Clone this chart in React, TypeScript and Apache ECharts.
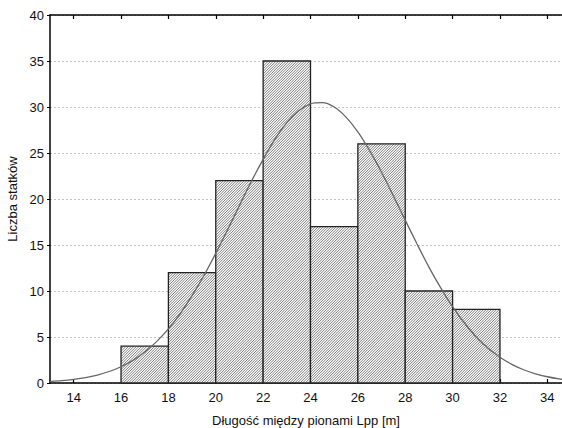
import React, { useEffect, useRef } from "react";
import * as echarts from "echarts";

const binStarts = [16, 18, 20, 22, 24, 26, 28, 30];
const binEnds = [18, 20, 22, 24, 26, 28, 30, 32];
const counts = [4, 12, 22, 35, 17, 26, 10, 8];

const curveX = [13, 13.5, 14, 14.5, 15, 15.5, 16, 16.5, 17, 17.5, 18, 18.5, 19, 19.5, 20, 20.5, 21, 21.5, 22, 22.5, 23, 23.5, 24, 24.5, 25, 25.5, 26, 26.5, 27, 27.5, 28, 28.5, 29, 29.5, 30, 30.5, 31, 31.5, 32, 32.5, 33, 33.5, 34, 34.5, 35];
const curveY = [0.16, 0.25, 0.39, 0.58, 0.86, 1.25, 1.77, 2.46, 3.36, 4.5, 5.88, 7.54, 9.49, 11.68, 14.1, 16.65, 19.3, 21.9, 24.3, 26.5, 28.3, 29.6, 30.35, 30.47, 30.0, 28.9, 27.3, 25.25, 22.9, 20.34, 17.7, 15.1, 12.6, 10.34, 8.3, 6.52, 5.0, 3.78, 2.8, 2.03, 1.44, 1.0, 0.68, 0.45, 0.3];

const xTicks = [14, 16, 18, 20, 22, 24, 26, 28, 30, 32, 34];

const FONT = "Liberation Sans, Arial, sans-serif";

export default function App() {
  const ref = useRef<HTMLDivElement>(null);
  useEffect(() => {
    document.body.style.margin = "0";
    if (!ref.current) return;
    const chart = echarts.init(ref.current, null, { renderer: "svg" });
    const barData = binStarts.map((s, i) => [s, binEnds[i], counts[i]]);
    const lineData = curveX.map((x, i) => [x, curveY[i]]);
    const renderItem = (params: any, api: any) => {
      const p0 = api.coord([api.value(0), api.value(2)]);
      const p1 = api.coord([api.value(1), 0]);
      const x0 = p0[0], y0 = p0[1], x1 = p1[0], y1 = p1[1];
      const children: any[] = [
        { type: "rect", shape: { x: x0, y: y0, width: x1 - x0, height: y1 - y0 }, style: { fill: "#fff" } },
      ];
      const step = 2.6;
      for (let c = x0 + y0; c <= x1 + y1; c += step) {
        const xa = Math.max(x0, c - y1);
        const xb = Math.min(x1, c - y0);
        if (xb <= xa) continue;
        children.push({
          type: "line",
          shape: { x1: xa, y1: c - xa, x2: xb, y2: c - xb },
          style: { stroke: "#6e6e6e", lineWidth: 0.9 },
        });
      }
      children.push({
        type: "rect",
        shape: { x: x0, y: y0, width: x1 - x0, height: y1 - y0 },
        style: { fill: "none", stroke: "#222", lineWidth: 1.3 },
      });
      return { type: "group", children };
    };
    chart.setOption({
      animation: false,
      grid: { left: 50, right: 0, top: 15, bottom: 45, outerBoundsMode: "none", containLabel: false },
      xAxis: [
        {
          type: "value",
          min: 13,
          max: 34.62,
          position: "bottom",
          name: "Długość między pionami Lpp [m]",
          nameLocation: "middle",
          nameGap: 31,
          nameTextStyle: { fontFamily: FONT, fontSize: 13, color: "#111" },
          axisLine: { show: true, lineStyle: { color: "#000", width: 1.5 } },
          axisTick: { show: true, inside: true, length: 4, customValues: xTicks, lineStyle: { color: "#000", width: 1.2 } },
          axisLabel: { customValues: xTicks, fontFamily: FONT, fontSize: 13, color: "#111", margin: 8 },
          splitLine: { show: false },
        },
        {
          type: "value",
          min: 13,
          max: 34.62,
          position: "top",
          axisLine: { show: true, lineStyle: { color: "#000", width: 1.5 } },
          axisTick: { show: true, inside: true, length: 4, customValues: xTicks, lineStyle: { color: "#000", width: 1.2 } },
          axisLabel: { show: false, customValues: xTicks },
          splitLine: { show: false },
        },
      ],
      yAxis: {
        type: "value",
        min: 0,
        max: 40,
        interval: 5,
        name: "Liczba statków",
        nameLocation: "middle",
        nameGap: 30,
        nameTextStyle: { fontFamily: FONT, fontSize: 13, color: "#111" },
        axisLine: { show: true, lineStyle: { color: "#000", width: 1.5 } },
        axisTick: { show: true, inside: false, length: 3, lineStyle: { color: "#000" } },
        axisLabel: { fontFamily: FONT, fontSize: 13, color: "#111", margin: 6 },
        splitLine: { show: true, lineStyle: { color: "#c4c4c4", type: [2, 2], width: 1 } },
      },
      series: [
        {
          type: "custom",
          renderItem,
          data: barData,
          encode: { x: [0, 1], y: 2 },
          xAxisIndex: 0,
          z: 2,
          silent: true,
        },
        {
          type: "line",
          data: lineData,
          smooth: 0.3,
          symbol: "none",
          xAxisIndex: 0,
          lineStyle: { color: "#666", width: 1.3 },
          z: 3,
          silent: true,
        },
      ],
    });
    return () => chart.dispose();
  }, []);
  return <div ref={ref} style={{ width: 562, height: 428 }} />;
}
